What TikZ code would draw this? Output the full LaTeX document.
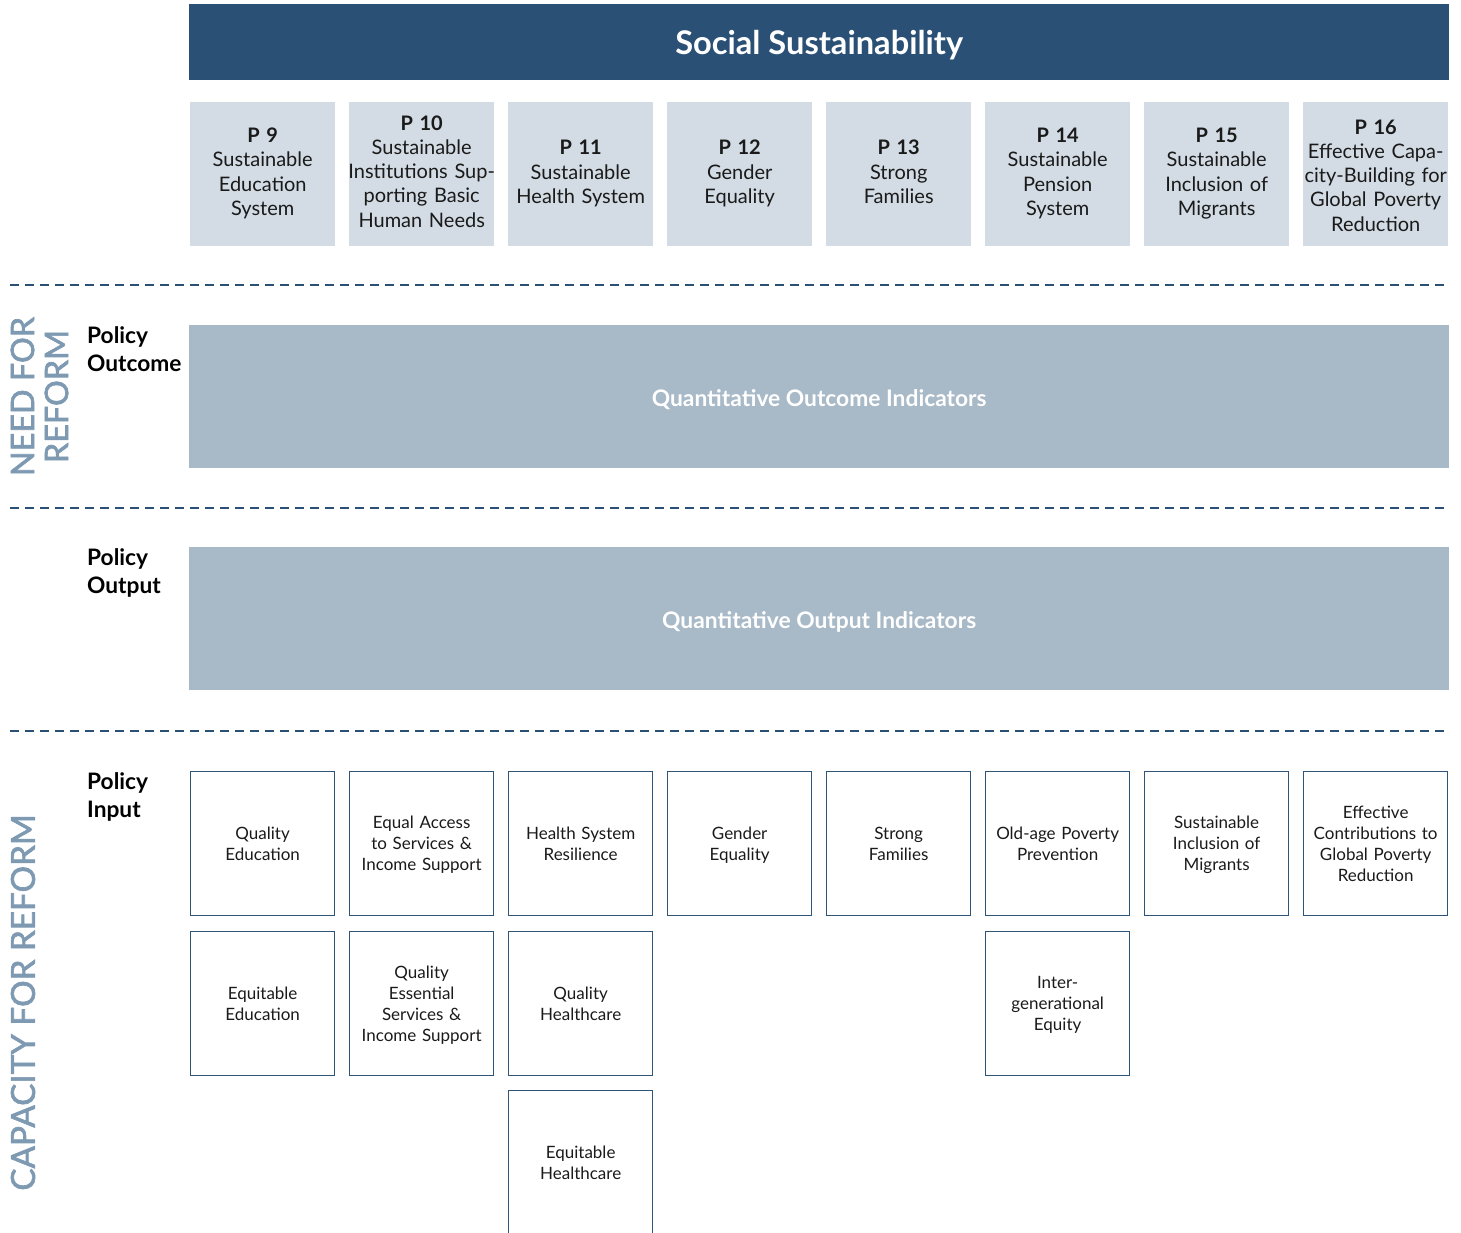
\documentclass[tikz,border=0pt]{standalone}
\usepackage{fontspec}
\setmainfont{Lato}
\definecolor{navy}{HTML}{2A5075}
\definecolor{pfill}{HTML}{D3DCE4}
\definecolor{indfill}{HTML}{A8B9C8}
\definecolor{sidecol}{HTML}{7E9AB2}
\definecolor{boxline}{HTML}{2E5577}
\definecolor{txt}{HTML}{1A1A1A}
\begin{document}
\begin{tikzpicture}[x=1pt,y=-1pt,
  titlebox/.style={fill=navy,anchor=north west,minimum width=1260pt,minimum height=76pt,inner sep=0pt,
    label={[inner sep=0pt,text=white,font=\fontsize{32.6}{36}\selectfont\bfseries,yshift=-2.5pt]center:#1}},
  ptext/.style={inner sep=0pt,align=center,text=txt,text width=152pt,font=\fontsize{20}{24.25}\selectfont,execute at begin node=\strut,execute at end node=\strut},
  pbox/.style n args={2}{fill=pfill,anchor=north west,minimum width=145pt,minimum height=144pt,inner sep=0pt,
    label={[ptext,yshift=#2]center:{#1}}},
  indbox/.style={fill=indfill,anchor=north west,minimum width=1260pt,minimum height=143pt,inner sep=0pt,
    label={[inner sep=0pt,text=white,font=\fontsize{22.8}{27}\selectfont\bfseries,execute at begin node=\strut,yshift=-4.5pt]center:#1}},
  itext/.style={inner sep=0pt,align=center,text=txt,text width=142pt,font=\fontsize{17}{21}\selectfont,execute at begin node=\strut,execute at end node=\strut,yshift=-2pt},
  ibox/.style={draw=boxline,line width=1.3pt,anchor=north west,minimum width=144pt,minimum height=144pt,inner sep=0pt,
    label={[itext]center:{#1}}},
  rowlab/.style={anchor=north west,align=left,inner sep=0pt,text=black,font=\fontsize{22.7}{27.5}\selectfont\bfseries},
  sidelab/.style={rotate=90,align=center,text=sidecol,inner sep=0pt},
  sep/.style={draw=navy,line width=1.6pt,dash pattern=on 9pt off 6pt}
]
\useasboundingbox (0,0) rectangle (1461,1233);

\node[titlebox={Social Sustainability}] (title) at (189,4) {};

\node[pbox={\textbf{P 9}\\Sustainable\\Education\\System}{0pt}] (p9) at (190,102) {};
\node[pbox={\textbf{P 10}\\Sustainable\\Institutions Sup-\\porting Basic\\Human Needs}{0.5pt}] (p10) at (349,102) {};
\node[pbox={\textbf{P 11}\\Sustainable\\Health System}{0pt}] (p11) at (508,102) {};
\node[pbox={\textbf{P 12}\\Gender\\Equality}{0pt}] (p12) at (667,102) {};
\node[pbox={\textbf{P 13}\\Strong\\Families}{0pt}] (p13) at (826,102) {};
\node[pbox={\textbf{P 14}\\Sustainable\\Pension\\System}{0pt}] (p14) at (985,102) {};
\node[pbox={\textbf{P 15}\\Sustainable\\Inclusion of\\Migrants}{0pt}] (p15) at (1144,102) {};
\node[pbox={\textbf{P 16}\\Effective Capa-\\city-Building for\\Global Poverty\\Reduction}{-3.5pt}] (p16) at (1303,102) {};

\coordinate (s1a) at (10,285);  \coordinate (s1b) at (1449,285);
\coordinate (s2a) at (10,508);  \coordinate (s2b) at (1449,508);
\coordinate (s3a) at (10,731);  \coordinate (s3b) at (1449,731);
\draw[sep] (s1a) -- (s1b);
\draw[sep] (s2a) -- (s2b);
\draw[sep] (s3a) -- (s3b);

\node[indbox={Quantitative Outcome Indicators}] (outcome) at (189,325) {};
\node[indbox={Quantitative Output Indicators}] (output) at (189,547) {};

\node[rowlab] (lout) at (87,326.5) {Policy\\Outcome};
\node[rowlab] (lput) at (87,548.5) {Policy\\Output};
\node[rowlab] (lin)  at (87,772.5) {Policy\\Input};

\node[sidelab,font=\fontsize{32.3}{34}\selectfont\addfontfeature{FakeBold=2}] (need) at (39.5,396.5) {NEED FOR\\REFORM};
\node[sidelab,font=\fontsize{33.2}{34}\selectfont\addfontfeature{FakeBold=2}] (cap)  at (23,1002.5) {CAPACITY FOR REFORM};

\node[ibox={Quality\\Education}] (i1) at (190,771) {};
\node[ibox={Equal Access\\to Services \&\\Income Support}] (i2) at (349,771) {};
\node[ibox={Health System\\Resilience}] (i3) at (508,771) {};
\node[ibox={Gender\\Equality}] (i4) at (667,771) {};
\node[ibox={Strong\\Families}] (i5) at (826,771) {};
\node[ibox={Old-age Poverty\\Prevention}] (i6) at (985,771) {};
\node[ibox={Sustainable\\Inclusion of\\Migrants}] (i7) at (1144,771) {};
\node[ibox={Effective\\Contributions to\\Global Poverty\\Reduction}] (i8) at (1303,771) {};

\node[ibox={Equitable\\Education}] (j1) at (190,931) {};
\node[ibox={Quality\\Essential\\Services \&\\Income Support}] (j2) at (349,931) {};
\node[ibox={Quality\\Healthcare}] (j3) at (508,931) {};
\node[ibox={Inter-\\generational\\Equity}] (j6) at (985,931) {};

\node[ibox={Equitable\\Healthcare}] (k3) at (508,1090) {};
\end{tikzpicture}
\end{document}
